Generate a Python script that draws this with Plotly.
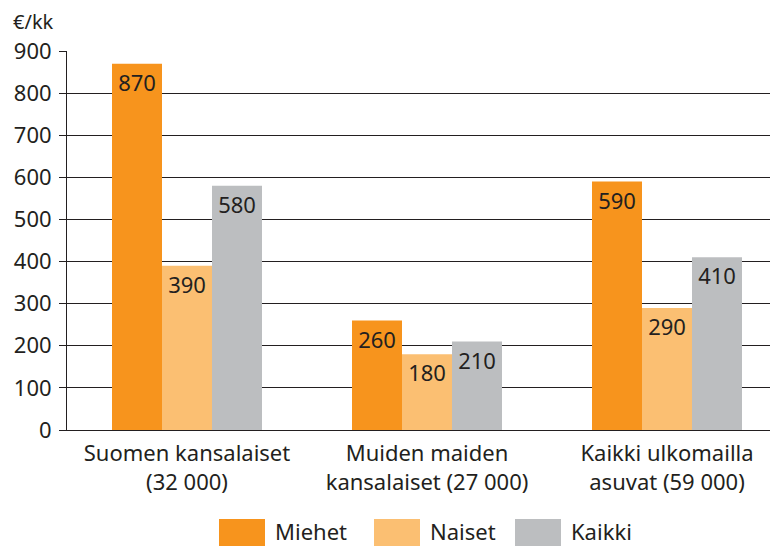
import plotly.graph_objects as go

categories = ["Suomen kansalaiset<br>(32 000)", "Muiden maiden<br>kansalaiset (27 000)", "Kaikki ulkomailla<br>asuvat (59 000)"]
series_names = ["Miehet", "Naiset", "Kaikki"]
miehet = [870, 260, 590]
naiset = [390, 180, 290]
kaikki = [580, 210, 410]
y_ticks = [0, 100, 200, 300, 400, 500, 600, 700, 800, 900]

colors = ["#F7941D", "#FBBF72", "#BCBEC0"]
values = [miehet, naiset, kaikki]
FONT = "Noto Sans"
FS = 22
TXT = "#231F20"
OFF = 8  # page body margin
W, H = 778 - OFF, 546 - OFF
L, R, T, B = 67 - OFF, 0, 51 - OFF, 546 - 430
PW, PH = W - L - R, H - T - B

fig = go.Figure()
for name, vals, col in zip(series_names, values, colors):
    fig.add_trace(go.Bar(
        x=list(range(len(categories))), y=vals, name=name,
        marker=dict(color=col, line=dict(width=0)),
        text=[str(v) for v in vals], textposition="inside",
        insidetextanchor="end", textangle=0,
        textfont=dict(family=FONT, size=FS, color=TXT),
        showlegend=False,
    ))

def px_x(p):
    return (p - OFF - L) / PW

def px_y(p):
    return (H - B - (p - OFF)) / PH

shapes = []
annotations = []
leg_sw = [219, 374, 515]
for name, col, sx in zip(series_names, colors, leg_sw):
    shapes.append(dict(type="rect", xref="paper", yref="paper",
                       x0=px_x(sx), x1=px_x(sx + 46), y0=px_y(546), y1=px_y(519),
                       fillcolor=col, line=dict(width=0), layer="above"))
    annotations.append(dict(xref="paper", yref="paper", x=px_x(sx + 54), y=px_y(531),
                            text=name, showarrow=False, xanchor="left", yanchor="middle",
                            font=dict(family=FONT, size=FS, color=TXT)))
annotations.append(dict(xref="paper", yref="paper", x=px_x(11), y=px_y(22),
                        text="€/kk", showarrow=False, xanchor="left", yanchor="middle",
                        font=dict(family=FONT, size=20, color=TXT)))

fig.update_layout(
    width=W, height=H,
    margin=dict(l=L, r=R, t=T, b=B, pad=0),
    paper_bgcolor="white", plot_bgcolor="white",
    barmode="group", bargap=0.375, bargroupgap=0,
    font=dict(family=FONT, size=FS, color=TXT),
    xaxis=dict(range=[-0.5, 2.4625], tickmode="array",
               tickvals=list(range(len(categories))), ticktext=categories,
               showgrid=False, zeroline=False, showline=True,
               linecolor=TXT, linewidth=1, ticks="outside", ticklen=4,
               tickcolor="rgba(0,0,0,0)",
               tickfont=dict(family=FONT, size=FS, color=TXT)),
    yaxis=dict(range=[0, 900], tickvals=y_ticks, showgrid=True,
               gridcolor=TXT, gridwidth=1, zeroline=False,
               showline=True, linecolor=TXT, linewidth=1,
               ticks="outside", ticklen=7, tickcolor=TXT,
               ticklabelstandoff=3,
               tickfont=dict(family=FONT, size=FS, color=TXT)),
    shapes=shapes, annotations=annotations,
)
fig.write_html("out.html")
